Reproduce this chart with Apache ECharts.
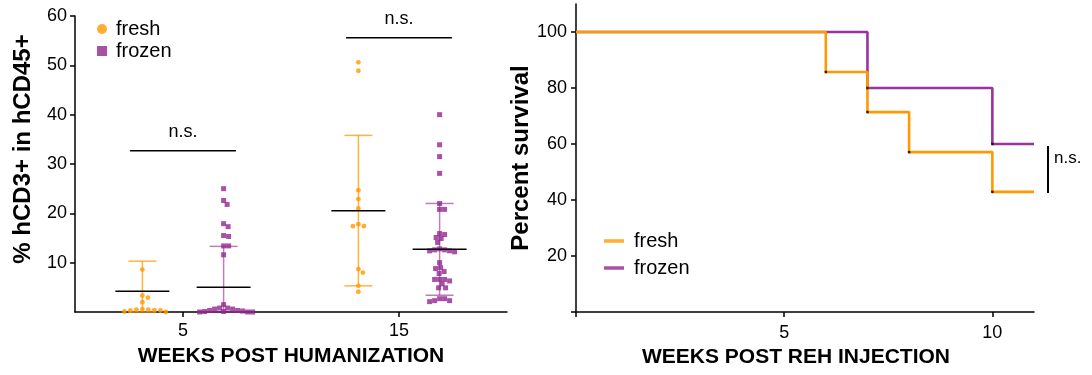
<!DOCTYPE html>
<html><head><meta charset="utf-8">
<script src="https://cdn.jsdelivr.net/npm/echarts@6/dist/echarts.min.js"></script>
<style>html,body{margin:0;padding:0;background:#fff}#c{width:1092px;height:375px}</style>
</head><body><div id="c"></div>
<script>
// ---------- Left panel data (% hCD3+ in hCD45+) ----------
const weeksHum = [5, 15];
const freshWeek5 = [8.6, 3.3, 2.9, 2.0, 0.6, 0.3, 0.1, 0.0, 0.3, 0.4, 0.5, 0.5];
const frozenWeek5 = [25.0, 22.6, 21.8, 17.9, 17.3, 15.5, 15.3, 13.4, 13.4, 11.6, 1.5, 0.8, 0.8, 0.6, 0.3, 0.2, 0.1, 0.0, 0.0, 0.0, 0.1, 0.3, 0.6];
const freshWeek15 = [50.6, 48.9, 24.7, 22.9, 21.0, 17.8, 17.4, 17.4, 8.7, 8.0, 5.3, 4.1];
const frozenWeek15 = [40.0, 33.9, 31.5, 28.1, 22.0, 20.8, 20.8, 15.9, 15.7, 15.1, 14.9, 14.1, 12.8, 12.6, 12.4, 12.2, 12.4, 12.6, 10.0, 9.0, 8.8, 8.2, 7.8, 6.6, 6.3, 6.6, 6.6, 5.7, 4.9, 4.9, 2.7, 2.3, 2.1, 2.3, 2.7];
const freshMean = [4.2, 20.5];
const freshHigh = [10.3, 35.8];
const freshLow = [0, 5.3];
const frozenMean = [5.0, 12.7];
const frozenHigh = [13.3, 22.0];
const frozenLow = [0, 3.4];
const nsLevelsLeft = [32.7, 55.6];
const leftYTicks = [10, 20, 30, 40, 50, 60];
const leftXTicks = [5, 15];

// ---------- Right panel data (survival) ----------
const freshSurvT = [0, 6, 7, 8, 10, 11];
const freshSurv = [100, 85.7, 71.4, 57.1, 42.9, 42.9];
const frozenSurvT = [0, 7, 10, 11];
const frozenSurv = [100, 80, 60, 60];
const rightYTicks = [0, 20, 40, 60, 80, 100];
const rightYLabels = [20, 40, 60, 80, 100];
const rightXTicks = [0, 5, 10];
const rightXLabels = [5, 10];

const ORANGE = '#FF9900';
const PURPLE = '#92278F';
const FONT = '"Liberation Sans", Arial, sans-serif';
const SHIFT = 1.88; // horizontal group offset (x units)

const chart = echarts.init(document.getElementById('c'), null, {renderer: 'canvas'});

const groups = [
  {name: 'fresh', vals: [freshWeek5, freshWeek15], side: -1, diam: 5.6},
  {name: 'frozen', vals: [frozenWeek5, frozenWeek15], side: 1, diam: 5.0}
];

function centered(g) {
  const out = [];
  g.vals.forEach((arr, i) => arr.forEach(v => out.push([weeksHum[i] + g.side * SHIFT, v])));
  return out;
}
function errData(low, high, side) {
  return weeksHum.map((w, i) => [w + side * SHIFT, low[i], high[i]]);
}
function meanData(mean, side) {
  return weeksHum.map((w, i) => [w + side * SHIFT, mean[i]]);
}
function errRender(color, opacity) {
  return function (params, api) {
    const x = api.value(0);
    const lo = api.coord([x, api.value(1)]);
    const hi = api.coord([x, api.value(2)]);
    const cw = 14;
    const st = {stroke: color, lineWidth: 1.5, opacity: opacity};
    return {type: 'group', children: [
      {type: 'line', shape: {x1: lo[0], y1: lo[1], x2: hi[0], y2: hi[1]}, style: st},
      {type: 'line', shape: {x1: hi[0] - cw, y1: hi[1], x2: hi[0] + cw, y2: hi[1]}, style: st},
      {type: 'line', shape: {x1: lo[0] - cw, y1: lo[1], x2: lo[0] + cw, y2: lo[1]}, style: st}
    ]};
  };
}
function meanRender(params, api) {
  const p = api.coord([api.value(0), api.value(1)]);
  return {type: 'line', shape: {x1: p[0] - 27, y1: p[1], x2: p[0] + 27, y2: p[1]},
    style: {stroke: '#000', lineWidth: 1.5}};
}

const axisLineStyle = {show: true, onZero: false, lineStyle: {color: '#000', width: 1.5}};
const labelStyle = {color: '#000', fontSize: 18, fontFamily: FONT};

const option = {
  animation: false,
  backgroundColor: '#fff',
  grid: [
    {left: 75, right: 585, top: 16, bottom: 63},
    {left: 576, right: 58, top: 4, bottom: 63}
  ],
  legend: [
    {left: 92, top: 14, orient: 'vertical', itemWidth: 10, itemHeight: 10, itemGap: 2,
     textStyle: {fontSize: 20, lineHeight: 20, color: '#000', fontFamily: FONT, padding: [0, 0, 0, 4]},
     data: [{name: 'fresh', icon: 'circle'}, {name: 'frozen', icon: 'rect'}], selectedMode: false},
    {left: 599, top: 226, orient: 'vertical', itemWidth: 20, itemHeight: 3.5, itemGap: 7,
     textStyle: {fontSize: 20, lineHeight: 20, color: '#000', fontFamily: FONT, padding: [0, 0, 0, 5]},
     data: [{name: 'fresh', icon: 'rect'}, {name: 'frozen', icon: 'rect'}], selectedMode: false}
  ],
  xAxis: [
    {gridIndex: 0, type: 'value', min: 0, max: 20,
     axisLine: axisLineStyle, splitLine: {show: false},
     axisTick: {show: true, length: 5, customValues: leftXTicks, lineStyle: {color: '#000', width: 1.5}},
     axisLabel: Object.assign({customValues: leftXTicks, margin: 10}, labelStyle),
     name: 'WEEKS POST HUMANIZATION', nameLocation: 'middle', nameGap: 34,
     nameTextStyle: {fontSize: 21, fontWeight: 'bold', color: '#000', fontFamily: FONT}},
    {gridIndex: 1, type: 'value', min: 0, max: 11,
     axisLine: axisLineStyle, splitLine: {show: false},
     axisTick: {show: true, length: 5, customValues: rightXTicks, lineStyle: {color: '#000', width: 1.5}},
     axisLabel: Object.assign({customValues: rightXLabels, margin: 12}, labelStyle),
     name: 'WEEKS POST REH INJECTION', nameLocation: 'middle', nameGap: 34,
     nameTextStyle: {fontSize: 21, fontWeight: 'bold', color: '#000', fontFamily: FONT, padding: [0, 18, 0, 0]}}
  ],
  yAxis: [
    {gridIndex: 0, type: 'value', min: 0, max: 60,
     axisLine: axisLineStyle, splitLine: {show: false},
     axisTick: {show: true, length: 5, customValues: leftYTicks, lineStyle: {color: '#000', width: 1.5}},
     axisLabel: Object.assign({customValues: leftYTicks, margin: 8}, labelStyle),
     name: '% hCD3+ in hCD45+', nameLocation: 'middle', nameGap: 40,
     nameTextStyle: {fontSize: 24, fontWeight: 'bold', color: '#000', fontFamily: FONT, padding: [0, 0, 0, 30]}},
    {gridIndex: 1, type: 'value', min: 0, max: 110,
     axisLine: axisLineStyle, splitLine: {show: false},
     axisTick: {show: true, length: 5, customValues: rightYTicks, lineStyle: {color: '#000', width: 1.5}},
     axisLabel: Object.assign({customValues: rightYLabels, margin: 9}, labelStyle),
     name: 'Percent survival', nameLocation: 'middle', nameGap: 41,
     nameTextStyle: {fontSize: 24, fontWeight: 'bold', color: '#000', fontFamily: FONT}}
  ],
  series: [
    {type: 'custom', name: 'freshErr', xAxisIndex: 0, yAxisIndex: 0, z: 1,
     renderItem: errRender(ORANGE, 0.75), data: errData(freshLow, freshHigh, -1)},
    {type: 'custom', name: 'frozenErr', xAxisIndex: 0, yAxisIndex: 0, z: 1,
     renderItem: errRender(PURPLE, 0.6), data: errData(frozenLow, frozenHigh, 1)},
    {id: 'sc-fresh', type: 'scatter', name: 'fresh', xAxisIndex: 0, yAxisIndex: 0, z: 2,
     symbol: 'circle', symbolSize: 4.8, itemStyle: {color: ORANGE}, data: centered(groups[0])},
    {id: 'sc-frozen', type: 'scatter', name: 'frozen', xAxisIndex: 0, yAxisIndex: 0, z: 2,
     symbol: 'rect', symbolSize: 5, itemStyle: {color: PURPLE}, data: centered(groups[1])},
    {type: 'custom', name: 'freshMean', xAxisIndex: 0, yAxisIndex: 0, z: 3,
     renderItem: meanRender, data: meanData(freshMean, -1)},
    {type: 'custom', name: 'frozenMean', xAxisIndex: 0, yAxisIndex: 0, z: 3,
     renderItem: meanRender, data: meanData(frozenMean, 1)},
    {type: 'custom', name: 'nsLeft', xAxisIndex: 0, yAxisIndex: 0, z: 3,
     data: weeksHum.map((w, i) => [w, nsLevelsLeft[i]]),
     renderItem: function (params, api) {
       const a = api.coord([api.value(0) - 2.45, api.value(1)]);
       const b = api.coord([api.value(0) + 2.45, api.value(1)]);
       return {type: 'group', children: [
         {type: 'line', shape: {x1: a[0], y1: a[1], x2: b[0], y2: b[1]}, style: {stroke: '#000', lineWidth: 1.6}},
         {type: 'text', x: (a[0] + b[0]) / 2, y: a[1] - 19,
          style: {text: 'n.s.', fontSize: 18, fontFamily: FONT, fill: '#000', align: 'center', verticalAlign: 'middle'}}
       ]};
     }},
    // Right panel
    {type: 'line', name: 'frozen', xAxisIndex: 1, yAxisIndex: 1, step: 'end', showSymbol: false, z: 2,
     lineStyle: {color: '#9A32A0', width: 2.6}, itemStyle: {color: '#9A32A0'},
     data: frozenSurvT.map((t, i) => [t, frozenSurv[i]])},
    {type: 'line', name: 'fresh', xAxisIndex: 1, yAxisIndex: 1, step: 'end', showSymbol: false, z: 3,
     lineStyle: {color: ORANGE, width: 2.6}, itemStyle: {color: ORANGE},
     data: freshSurvT.map((t, i) => [t, freshSurv[i]])},
    {type: 'scatter', name: 'events', xAxisIndex: 1, yAxisIndex: 1, z: 4, symbol: 'rect', symbolSize: 2.5,
     itemStyle: {color: '#000'},
     data: freshSurvT.slice(1, -1).map((t, i) => [t, freshSurv[i + 1]])
       .concat(frozenSurvT.slice(1, -1).map((t, i) => [t, frozenSurv[i + 1]]))},
    {type: 'custom', name: 'nsRight', xAxisIndex: 1, yAxisIndex: 1, z: 4,
     data: [[11, frozenSurv[frozenSurv.length - 1], freshSurv[freshSurv.length - 1]]],
     renderItem: function (params, api) {
       const a = api.coord([api.value(0), api.value(1)]);
       const b = api.coord([api.value(0), api.value(2)]);
       const x = a[0] + 14;
       return {type: 'group', children: [
         {type: 'line', shape: {x1: x, y1: a[1] + 2, x2: x, y2: b[1] + 1}, style: {stroke: '#000', lineWidth: 2}},
         {type: 'text', x: x + 6, y: (a[1] + b[1]) / 2 - 10,
          style: {text: 'n.s.', fontSize: 17, fontFamily: FONT, fill: '#000', align: 'left', verticalAlign: 'middle'}}
       ]};
     }}
  ]
};
chart.setOption(option);

// Beeswarm layout computed from the values via the axis scales
function swarm(g) {
  const out = [];
  g.vals.forEach((arr, gi) => {
    const cxData = weeksHum[gi] + g.side * SHIFT;
    const cx = chart.convertToPixel({gridIndex: 0}, [cxData, 0])[0];
    const pts = arr.map(v => ({v: v, py: chart.convertToPixel({gridIndex: 0}, [cxData, v])[1]}));
    pts.sort((a, b) => a.py - b.py);
    const placed = [];
    pts.forEach(p => {
      let off = 0;
      for (let k = 0; k < 400; k++) {
        const o = (k % 2 === 1 ? 1 : -1) * Math.ceil(k / 2) * 0.5;
        const ok = placed.every(q => (q.x - o) * (q.x - o) + (q.py - p.py) * (q.py - p.py) >= g.diam * g.diam);
        if (ok) { off = o; break; }
      }
      placed.push({x: off, py: p.py});
      const d = chart.convertFromPixel({gridIndex: 0}, [cx + off, p.py]);
      out.push([d[0], p.v]);
    });
  });
  return out;
}
chart.setOption({series: [
  {id: 'sc-fresh', data: swarm(groups[0])},
  {id: 'sc-frozen', data: swarm(groups[1])}
]});
</script>
</body></html>
